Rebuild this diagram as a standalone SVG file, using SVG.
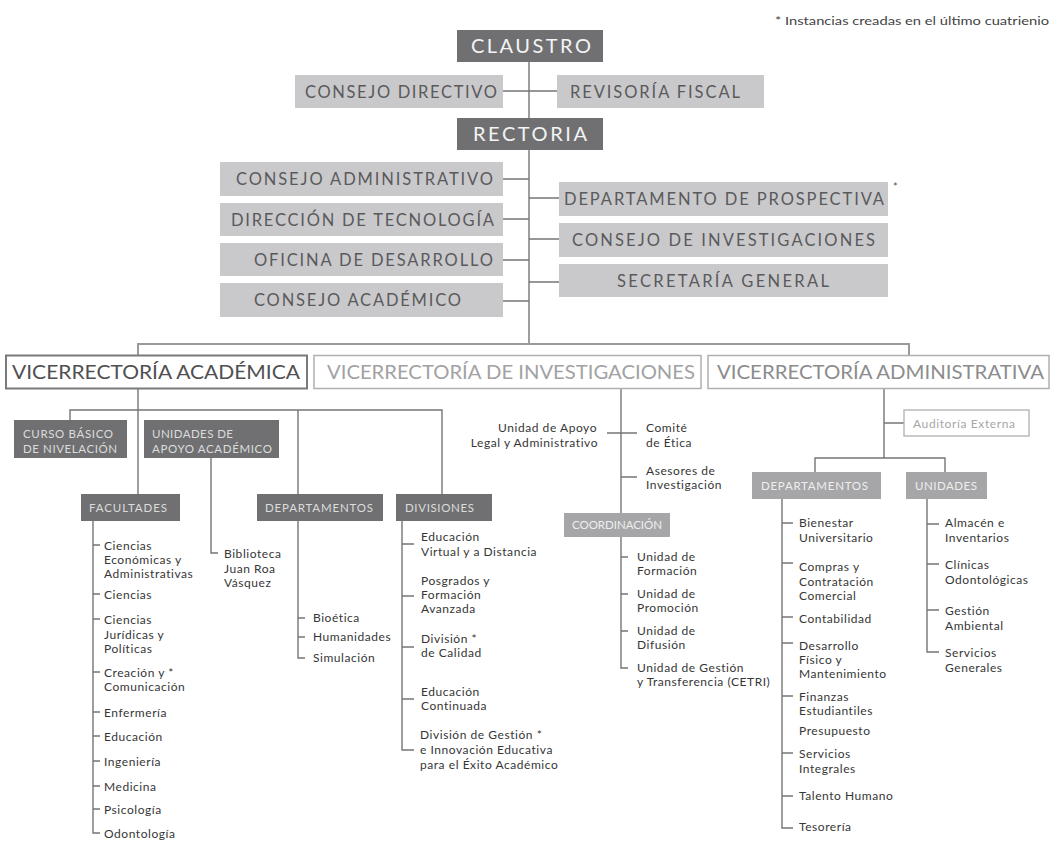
<svg xmlns="http://www.w3.org/2000/svg" width="1052" height="843" viewBox="0 0 1052 843">
<style>
text{font-family:Lato,"Liberation Sans",sans-serif}
.dk{fill:#707072}
.lt{fill:#c9c9cb}
.md{fill:#a6a6a8}
.big{font-size:16.5px;fill:#5a5a5c}
.bigw{font-size:20px;fill:#f4f4f4}
.vr{font-size:20px}
.lab{font-size:11.5px;fill:#dcdcdc}
.labm{font-size:11.5px;fill:#eeeeee}
.it{font-size:12px;fill:#363636;letter-spacing:0.55px}
.ln{stroke:#757577;stroke-width:1.4;fill:none}
.ln2{stroke:#9a9a9c;stroke-width:2;fill:none}
</style>
<rect width="1052" height="843" fill="#ffffff"/>
<text x="775" y="25" style="font-size:11px;fill:#444" textLength="274" lengthAdjust="spacingAndGlyphs">* Instancias creadas en el último cuatrienio</text>

<g id="connectors">
<path class="ln" d="M529,62V344M502,91H557M502,179H529M502,219H529M502,260H529M502,301H529M529,198H559M529,239H559M529,282H559"/>
<path class="ln2" d="M138,355V344H909V355"/>
<path class="ln" d="M138,389V494M70,420V410H442V494M298,410V494M211,458V553H218"/>
<path class="ln" d="M93,521V833H100M93,545H100M93,594H100M93,619H100M93,672H100M93,712H100M93,736H100M93,761H100M93,786H100M93,809H100"/>
<path class="ln" d="M298,521V658H305M298,618H305M298,637H305"/>
<path class="ln" d="M402,521V750H414M402,544H414M402,596H414M402,647H414M402,699H414"/>
<path class="ln" d="M621,389V513M607,433H637M621,477H637M621,537V668H628M621,557H628M621,594H628M621,631H628"/>
<path class="ln" d="M884,389V458M884,423H904M815,472V458H945V472"/>
<path class="ln" d="M782,499V828H793M782,523H793M782,563H793M782,617H793M782,643H793M782,696H793M782,753H793M782,796H793"/>
<path class="ln" d="M927,499V652H939M927,524H939M927,564H939M927,610H939"/>
</g>

<g id="claustro"><rect class="dk" x="457" y="30" width="146" height="32"/><text class="bigw" x="471" y="53" textLength="120" lengthAdjust="spacing">CLAUSTRO</text></g>
<g id="consejo-directivo"><rect class="lt" x="295" y="75" width="208" height="33"/><text class="big" x="305" y="97.5" textLength="192" lengthAdjust="spacing">CONSEJO DIRECTIVO</text></g>
<g id="revisoria-fiscal"><rect class="lt" x="557" y="75" width="207" height="33"/><text class="big" x="570" y="97.5" textLength="170" lengthAdjust="spacing">REVISORÍA FISCAL</text></g>
<g id="rectoria"><rect class="dk" x="457" y="118" width="146" height="32"/><text class="bigw" x="473" y="141" textLength="114" lengthAdjust="spacing">RECTORIA</text></g>

<g id="consejo-administrativo"><rect class="lt" x="220" y="162" width="283" height="34"/><text class="big" x="236" y="185" textLength="257" lengthAdjust="spacing">CONSEJO ADMINISTRATIVO</text></g>
<g id="direccion-tecnologia"><rect class="lt" x="220" y="203" width="283" height="33"/><text class="big" x="231" y="225.5" textLength="263" lengthAdjust="spacing">DIRECCIÓN DE TECNOLOGÍA</text></g>
<g id="oficina-desarrollo"><rect class="lt" x="220" y="243" width="283" height="33"/><text class="big" x="254" y="265.5" textLength="239" lengthAdjust="spacing">OFICINA DE DESARROLLO</text></g>
<g id="consejo-academico"><rect class="lt" x="220" y="283" width="283" height="34"/><text class="big" x="254" y="306" textLength="207" lengthAdjust="spacing">CONSEJO ACADÉMICO</text></g>
<g id="depto-prospectiva"><rect class="lt" x="559" y="182" width="329" height="34"/><text class="big" x="564" y="205" textLength="320" lengthAdjust="spacing">DEPARTAMENTO DE PROSPECTIVA</text><text x="893" y="191" style="font-size:11px;fill:#555">*</text></g>
<g id="consejo-investigaciones"><rect class="lt" x="559" y="223" width="329" height="34"/><text class="big" x="572" y="246" textLength="303" lengthAdjust="spacing">CONSEJO DE INVESTIGACIONES</text></g>
<g id="secretaria-general"><rect class="lt" x="559" y="264" width="329" height="33"/><text class="big" x="617" y="286.5" textLength="212" lengthAdjust="spacing">SECRETARÍA GENERAL</text></g>

<g id="vr-academica"><rect x="6" y="355.5" width="301" height="33" fill="#fff" stroke="#7a7a7c" stroke-width="2"/><text class="vr" x="12" y="379" fill="#505052" textLength="288" lengthAdjust="spacingAndGlyphs">VICERRECTORÍA ACADÉMICA</text></g>
<g id="vr-investigaciones"><rect x="314" y="355.5" width="387" height="33" fill="#fff" stroke="#b0b0b2" stroke-width="1.5"/><text class="vr" x="327" y="379" fill="#a2a2a4" textLength="368" lengthAdjust="spacingAndGlyphs">VICERRECTORÍA DE INVESTIGACIONES</text></g>
<g id="vr-administrativa"><rect x="708" y="355.5" width="341" height="33" fill="#fff" stroke="#b0b0b2" stroke-width="1.5"/><text class="vr" x="717" y="379" fill="#8c8c8e" textLength="327" lengthAdjust="spacingAndGlyphs">VICERRECTORÍA ADMINISTRATIVA</text></g>

<g id="curso-basico"><rect class="dk" x="14" y="420" width="113" height="38"/><text class="lab" x="23" y="438" textLength="90" lengthAdjust="spacing">CURSO BÁSICO</text><text class="lab" x="23" y="453" textLength="94" lengthAdjust="spacing">DE NIVELACIÓN</text></g>
<g id="unidades-apoyo"><rect class="dk" x="144" y="420" width="135" height="38"/><text class="lab" x="152" y="438" textLength="81" lengthAdjust="spacing">UNIDADES DE</text><text class="lab" x="152" y="453" textLength="120" lengthAdjust="spacing">APOYO ACADÉMICO</text></g>
<g id="biblioteca"><text class="it" x="224" y="558">Biblioteca</text><text class="it" x="224" y="573">Juan Roa</text><text class="it" x="224" y="587">Vásquez</text></g>

<g id="facultades"><rect class="dk" x="81" y="494" width="99" height="27"/><text class="lab" x="89" y="512" textLength="78" lengthAdjust="spacing">FACULTADES</text>
<text class="it" x="104" y="550">Ciencias</text><text class="it" x="104" y="564">Económicas y</text><text class="it" x="104" y="578">Administrativas</text>
<text class="it" x="104" y="599">Ciencias</text>
<text class="it" x="104" y="624">Ciencias</text><text class="it" x="104" y="639">Jurídicas y</text><text class="it" x="104" y="653">Políticas</text>
<text class="it" x="104" y="677">Creación y  *</text><text class="it" x="104" y="691">Comunicación</text>
<text class="it" x="104" y="717">Enfermería</text>
<text class="it" x="104" y="741">Educación</text>
<text class="it" x="104" y="766">Ingeniería</text>
<text class="it" x="104" y="791">Medicina</text>
<text class="it" x="104" y="814">Psicología</text>
<text class="it" x="104" y="838">Odontología</text></g>

<g id="departamentos-acad"><rect class="dk" x="257" y="494" width="126" height="27"/><text class="lab" x="265" y="512" textLength="108" lengthAdjust="spacing">DEPARTAMENTOS</text>
<text class="it" x="313" y="622">Bioética</text><text class="it" x="313" y="641">Humanidades</text><text class="it" x="313" y="662">Simulación</text></g>

<g id="divisiones"><rect class="dk" x="396" y="494" width="96" height="27"/><text class="lab" x="405" y="512" textLength="69" lengthAdjust="spacing">DIVISIONES</text>
<text class="it" x="421" y="541">Educación</text><text class="it" x="421" y="556">Virtual y a Distancia</text>
<text class="it" x="421" y="585">Posgrados y</text><text class="it" x="421" y="599">Formación</text><text class="it" x="421" y="613">Avanzada</text>
<text class="it" x="421" y="643">División  *</text><text class="it" x="421" y="657">de Calidad</text>
<text class="it" x="421" y="696">Educación</text><text class="it" x="421" y="710">Continuada</text>
<text class="it" x="420" y="739">División de Gestión  *</text><text class="it" x="420" y="754">e Innovación Educativa</text><text class="it" x="420" y="769">para el Éxito Académico</text></g>

<g id="investigaciones-unidades">
<text class="it" x="597" y="432" text-anchor="end">Unidad de Apoyo</text><text class="it" x="598" y="447" text-anchor="end">Legal y Administrativo</text>
<text class="it" x="646" y="432">Comité</text><text class="it" x="646" y="447">de Ética</text>
<text class="it" x="646" y="475">Asesores de</text><text class="it" x="646" y="489">Investigación</text></g>

<g id="coordinacion"><rect class="md" x="564" y="513" width="106" height="24"/><text class="labm" x="572" y="529" textLength="90" lengthAdjust="spacing">COORDINACIÓN</text>
<text class="it" x="637" y="561">Unidad de</text><text class="it" x="637" y="575">Formación</text>
<text class="it" x="637" y="598">Unidad de</text><text class="it" x="637" y="612">Promoción</text>
<text class="it" x="637" y="635">Unidad de</text><text class="it" x="637" y="649">Difusión</text>
<text class="it" x="637" y="672">Unidad de Gestión</text><text class="it" x="637" y="686">y Transferencia (CETRI)</text></g>

<g id="auditoria"><rect x="904" y="410" width="125" height="26" fill="#fff" stroke="#b0b0b2" stroke-width="1.3"/><text x="913" y="428" style="font-size:12px;fill:#a6a6a8" textLength="102" lengthAdjust="spacing">Auditoría Externa</text></g>

<g id="departamentos-admin"><rect class="md" x="752" y="472" width="129" height="27"/><text class="labm" x="761" y="490" textLength="107" lengthAdjust="spacing">DEPARTAMENTOS</text>
<text class="it" x="799" y="527">Bienestar</text><text class="it" x="799" y="542">Universitario</text>
<text class="it" x="799" y="571">Compras y</text><text class="it" x="799" y="586">Contratación</text><text class="it" x="799" y="600">Comercial</text>
<text class="it" x="799" y="623">Contabilidad</text>
<text class="it" x="799" y="650">Desarrollo</text><text class="it" x="799" y="664">Físico y</text><text class="it" x="799" y="678">Mantenimiento</text>
<text class="it" x="799" y="701">Finanzas</text><text class="it" x="799" y="715">Estudiantiles</text>
<text class="it" x="799" y="735">Presupuesto</text>
<text class="it" x="799" y="758">Servicios</text><text class="it" x="799" y="773">Integrales</text>
<text class="it" x="799" y="800">Talento Humano</text>
<text class="it" x="799" y="831">Tesorería</text></g>

<g id="unidades-admin"><rect class="md" x="906" y="472" width="81" height="27"/><text class="labm" x="915" y="490" textLength="62" lengthAdjust="spacing">UNIDADES</text>
<text class="it" x="945" y="527">Almacén e</text><text class="it" x="945" y="542">Inventarios</text>
<text class="it" x="945" y="569">Clínicas</text><text class="it" x="945" y="584">Odontológicas</text>
<text class="it" x="945" y="615">Gestión</text><text class="it" x="945" y="630">Ambiental</text>
<text class="it" x="945" y="657">Servicios</text><text class="it" x="945" y="672">Generales</text></g>
</svg>
